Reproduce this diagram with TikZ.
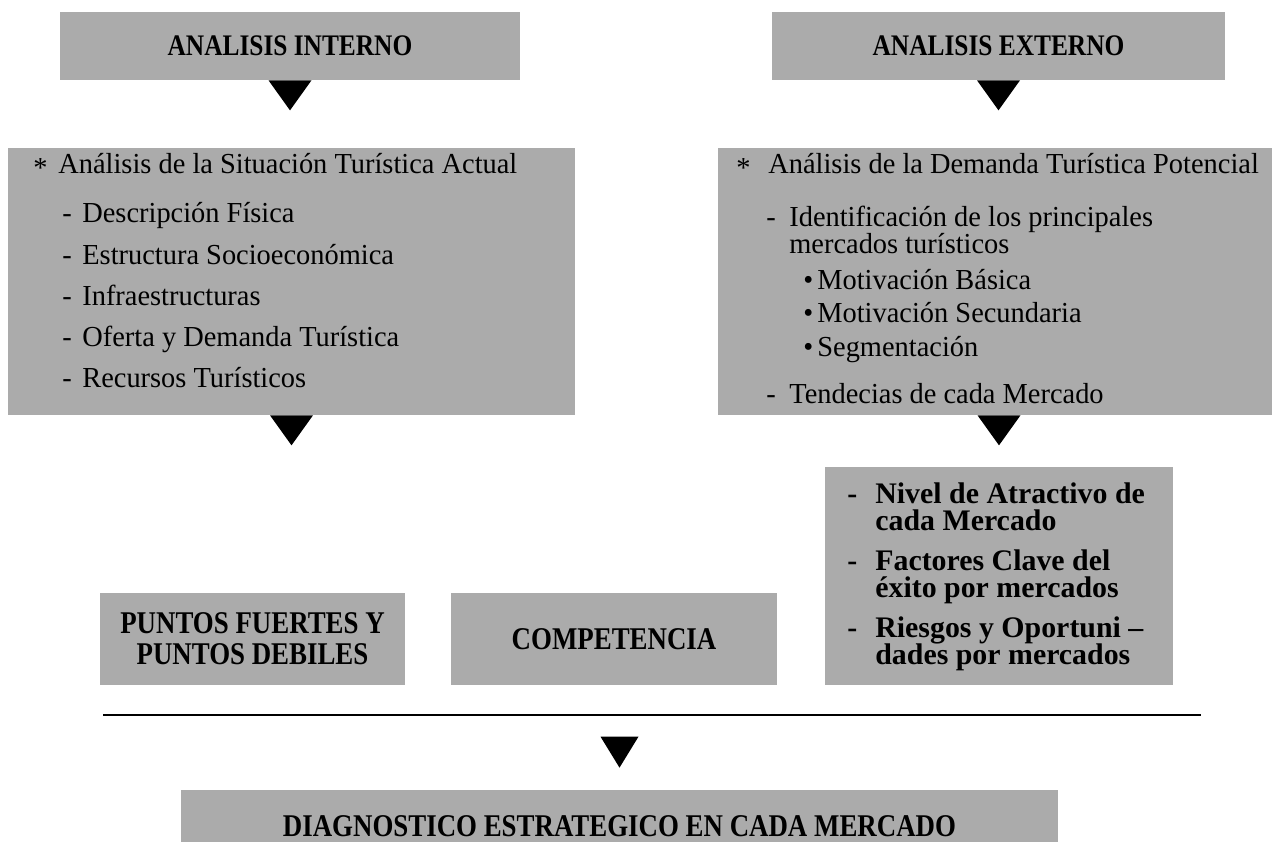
\documentclass[tikz,border=0pt]{standalone}
\usepackage{fontspec}
\setmainfont{Liberation Serif}
\newfontfamily\headfont[FakeStretch=0.85]{Liberation Serif}
\newfontfamily\bodyfont[FakeStretch=0.98]{Liberation Serif}
\usetikzlibrary{calc}
\definecolor{panelgray}{HTML}{ABABAB}
\tikzset{
  panel/.style={fill=panelgray,inner sep=0pt},
  head text/.style={font=\headfont\bfseries\fontsize{17}{17}\selectfont,align=center},
  big head/.style={font=\headfont\bfseries\fontsize{18}{17.5}\selectfont,align=center},
  item text/.style={font=\bodyfont\fontsize{16.5}{18}\selectfont,anchor=base west,inner sep=0pt,
    text height=11pt,text depth=2pt},
  key text/.style={font=\bfseries\fontsize{17}{18}\selectfont,anchor=base west,inner sep=0pt,
    text height=11pt,text depth=2pt},
  pointer/.style={fill=black},
  divider/.style={line width=1.5pt}
}
\begin{document}
\begin{tikzpicture}[x=0.02cm,y=-0.02cm]
  \useasboundingbox (0,0) rectangle (1272,842);
  \clip (0,0) rectangle (1272,842);
  % headings
  \node[panel,head text,minimum width=9.2cm,minimum height=1.36cm] (intbox) at (290,46) {ANALISIS INTERNO};
  \node[panel,head text,minimum width=9.06cm,minimum height=1.36cm] (extbox) at (998.5,46) {ANALISIS EXTERNO};
  % situacion actual
  \node[panel,minimum width=11.34cm,minimum height=5.34cm] (sitbox) at (291.5,281.5) {};
  \node[item text] (sitstar) at (33,177) {*};
  \node[item text] (sittitle) at (58,173) {Análisis de la Situación Turística Actual};
  \foreach \y/\lab [count=\i] in {222/Descripción Física,264/Estructura Socioeconómica,305/Infraestructuras,346/Oferta y Demanda Turística,387/Recursos Turísticos}{
    \node[item text] (sitdash\i) at (62,\y) {-};
    \node[item text] (sititem\i) at (82,\y) {\lab};
  }
  % demanda potencial
  \node[panel,minimum width=11.08cm,minimum height=5.34cm] (dembox) at (995,281.5) {};
  \node[item text] (demstar) at (736,177) {*};
  \node[item text] (demtitle) at (768,173) {Análisis de la Demanda Turística Potencial};
  \node[item text] (demdash1) at (766,226) {-};
  \node[item text] (demitem1) at (789,226) {Identificación de los principales};
  \node[item text] (demitem1b) at (789,253) {mercados turísticos};
  \foreach \y/\lab [count=\i] in {289/Motivación Básica,322/Motivación Secundaria,356/Segmentación}{
    \node[item text] (dembul\i) at (803,\y) {•};
    \node[item text] (demsub\i) at (817,\y) {\lab};
  }
  \node[item text] (demdash2) at (766,403) {-};
  \node[item text] (demitem2) at (789,403) {Tendecias de cada Mercado};
  % atractivo
  \node[panel,minimum width=6.96cm,minimum height=4.36cm] (atrbox) at (999,576) {};
  \foreach \y/\la/\lb [count=\i] in {503/Nivel de Atractivo de/cada Mercado,570/Factores Clave del/éxito por mercados,637/Riesgos y Oportuni –/dades por mercados}{
    \node[key text] (atrdash\i) at (847,\y) {-};
    \node[key text] (atrline\i) at (875,\y) {\la};
    \node[key text] (atrnext\i) at (875,\y+27) {\lb};
  }
  % fuertes, competencia
  \node[panel,big head,minimum width=6.1cm,minimum height=1.84cm] (fuerbox) at (252.5,639) {PUNTOS FUERTES Y\\PUNTOS DEBILES};
  \node[panel,big head,minimum width=6.52cm,minimum height=1.84cm] (compbox) at (614,639) {COMPETENCIA};
  % diagnostico
  \node[panel,big head,minimum width=17.54cm,minimum height=1.44cm] (diagbox) at (619.5,826) {DIAGNOSTICO ESTRATEGICO EN CADA MERCADO};
  \coordinate (divl) at (103,715);
  \coordinate (divr) at (1201,715);
  \draw[divider] (divl) -- (divr);
  % pointers
  \fill[pointer] (intbox.south) ++(-21.5,0) -- ++(43,0) -- ++(-21.5,30) -- cycle;
  \fill[pointer] (extbox.south) ++(-21.5,0) -- ++(43,0) -- ++(-21.5,30) -- cycle;
  \fill[pointer] (sitbox.south) ++(-21.5,0) -- ++(43,0) -- ++(-21.5,30) -- cycle;
  \fill[pointer] (atrbox.north |- dembox.south) ++(-21.5,0) -- ++(43,0) -- ++(-21.5,30) -- cycle;
  \fill[pointer] ($(diagbox.north)+(0,-53)$) ++(-19,0) -- ++(38,0) -- ++(-19,31) -- cycle;
\end{tikzpicture}
\end{document}
